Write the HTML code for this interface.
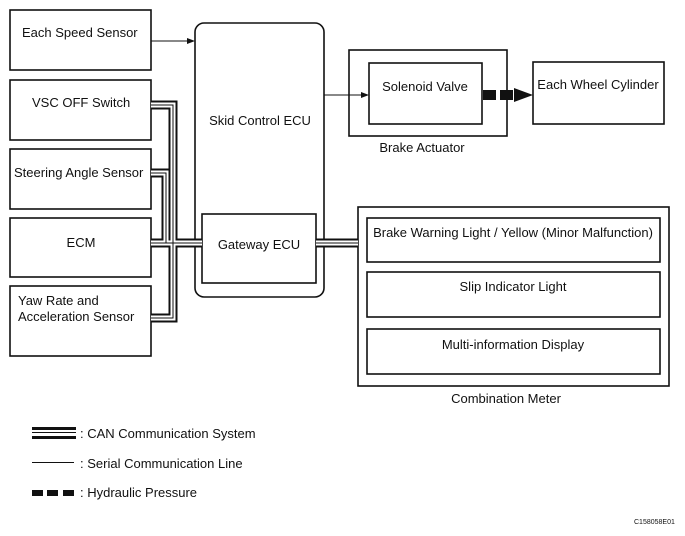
<!DOCTYPE html>
<html><head><style>
body{margin:0;background:#fff;}
svg{display:block;font-family:"Liberation Sans",sans-serif;}
text{font-size:13px;fill:#111;}
.c{text-anchor:middle;}
</style></head><body>
<svg width="685" height="536" viewBox="0 0 685 536" xmlns="http://www.w3.org/2000/svg">
<g fill="none" stroke="#111" stroke-width="1.6">
<rect x="10" y="10" width="141" height="60"/>
<rect x="10" y="80" width="141" height="60"/>
<rect x="10" y="149" width="141" height="60"/>
<rect x="10" y="218" width="141" height="59"/>
<rect x="10" y="286" width="141" height="70"/>
<rect x="195" y="23" width="129" height="274" rx="9"/>
<rect x="202" y="214" width="114" height="69"/>
<rect x="349" y="50" width="158" height="86"/>
<rect x="369" y="63" width="113" height="61"/>
<rect x="533" y="62" width="131" height="62"/>
<rect x="358" y="207" width="311" height="179"/>
<rect x="367" y="218" width="293" height="44"/>
<rect x="367" y="272" width="293" height="45"/>
<rect x="367" y="329" width="293" height="45"/>
</g>
<g fill="none" stroke-linejoin="miter">
<g stroke="#111" stroke-width="9">
<path d="M151,105 H173 V243 H202"/>
<path d="M151,173 H166 V243"/>
<path d="M151,318 H173 V243"/>
<path d="M151,243 H173"/>
<path d="M316,243 H358"/>
</g>
<g stroke="#fff" stroke-width="5">
<path d="M151,105 H173 V243 H202"/>
<path d="M151,173 H166 V243"/>
<path d="M151,318 H173 V243"/>
<path d="M151,243 H173"/>
<path d="M316,243 H358"/>
</g>
<g stroke="#111" stroke-width="1">
<path d="M151,105 H173 V243 H202"/>
<path d="M151,173 H166 V243"/>
<path d="M151,318 H173 V243"/>
<path d="M151,243 H173"/>
<path d="M316,243 H358"/>
</g>
</g>
<g stroke="#111" stroke-width="1">
<line x1="151" y1="41" x2="189" y2="41"/>
<line x1="324" y1="95" x2="363" y2="95"/>
</g>
<polygon points="195,41 187,38 187,44" fill="#111"/>
<polygon points="369,95 361,92 361,98" fill="#111"/>
<g fill="#111">
<rect x="483" y="90" width="13" height="10"/>
<rect x="500" y="90" width="13" height="10"/>
<polygon points="514,88 533,95 514,102"/>
</g>
<text x="22" y="37">Each Speed Sensor</text>
<text x="32" y="107">VSC OFF Switch</text>
<text x="14" y="177">Steering Angle Sensor</text>
<text x="81" y="247" class="c">ECM</text>
<text x="18" y="305">Yaw Rate and</text>
<text x="18" y="321">Acceleration Sensor</text>
<text x="260" y="125" class="c">Skid Control ECU</text>
<text x="259" y="249" class="c">Gateway ECU</text>
<text x="425" y="91" class="c">Solenoid Valve</text>
<text x="598" y="89" class="c">Each Wheel Cylinder</text>
<text x="422" y="152" class="c">Brake Actuator</text>
<text x="513" y="237" class="c">Brake Warning Light / Yellow (Minor Malfunction)</text>
<text x="513" y="291" class="c">Slip Indicator Light</text>
<text x="513" y="349" class="c">Multi-information Display</text>
<text x="506" y="403" class="c">Combination Meter</text>
<g fill="#111">
<rect x="32" y="427" width="44" height="3"/>
<rect x="32" y="432" width="44" height="1"/>
<rect x="32" y="436" width="44" height="3"/>
<rect x="32" y="462" width="42" height="1"/>
<rect x="32" y="490" width="11" height="6"/>
<rect x="47" y="490" width="11" height="6"/>
<rect x="63" y="490" width="11" height="6"/>
</g>
<text x="80" y="438">: CAN Communication System</text>
<text x="80" y="468">: Serial Communication Line</text>
<text x="80" y="497">: Hydraulic Pressure</text>
<text x="634" y="524" style="font-size:7px">C158058E01</text>
</svg>
</body></html>
